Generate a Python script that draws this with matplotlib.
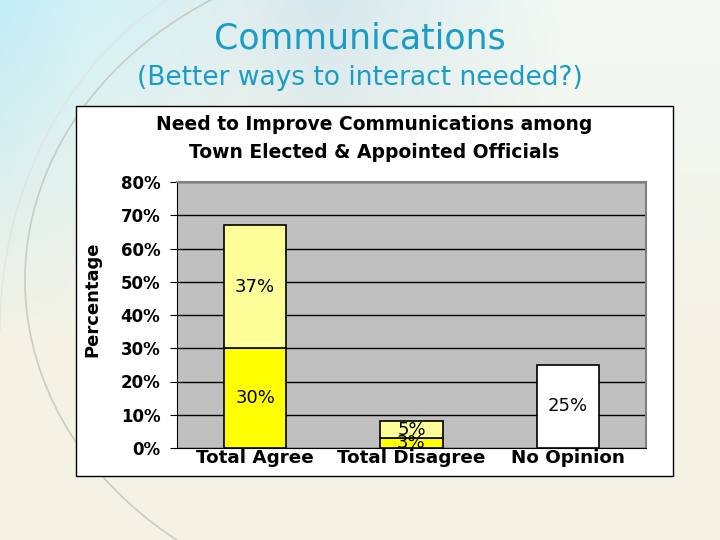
import numpy as np
import matplotlib
matplotlib.use('Agg')
import matplotlib.pyplot as plt
from matplotlib.patches import Rectangle, Arc

categories = ['Total Agree', 'Total Disagree', 'No Opinion']
lower_vals = [30, 3, 25]     # strongly agree / strongly disagree / no opinion
upper_vals = [37, 5, 0]      # agree / disagree
yticks = [0, 10, 20, 30, 40, 50, 60, 70, 80]

plt.rcParams['font.family'] = ['DejaVu Sans']

fig = plt.figure(figsize=(7.2, 5.4), dpi=100)

# slide background (gradient + faint arcs)
bg = fig.add_axes([0, 0, 1, 1])
h, w = 270, 360
yy, xx = np.mgrid[0:1:h*1j, 0:1:w*1j]
cream = np.array([0.96, 0.95, 0.90])
light = np.array([0.95, 0.98, 0.96])
cyan = np.array([0.76, 0.93, 0.97])
blue_gray = np.array([0.84, 0.91, 0.93])
tv = np.clip(yy * 1.6, 0, 1)[..., None]
wc = np.clip(1 - xx * 3, 0, 1)[..., None]
wb = np.clip(1 - np.abs(xx - 0.45) * 3, 0, 1)[..., None]
wl = np.clip(1 - wc - wb, 0, 1)
top_row = (cyan * wc + blue_gray * wb + light * wl) / (wc + wb + wl)
img = top_row * (1 - tv) + cream * tv
bg.imshow(img, extent=[0, 1, 0, 1], aspect='auto', zorder=0, origin='upper')
bg.add_patch(Arc((420/720, 1 - 280/540), 790/720, 660/540, theta1=90, theta2=270,
                 color='#c8ccc4', lw=1.2))
bg.add_patch(Arc((330/720, 1 - 330/540), 660/720, 760/540, theta1=110, theta2=180,
                 color='#dfe6e2', lw=1.0))
bg.set_xlim(0, 1)
bg.set_ylim(0, 1)
bg.axis('off')

fig.text(0.5, 0.928, 'Communications', ha='center', va='center', fontsize=25,
         color='#1a9cc6')
fig.text(0.5, 0.856, '(Better ways to interact needed?)', ha='center', va='center',
         fontsize=19, color='#1a9cc6')

# white chart box
fig.patches.append(Rectangle((76/720, 1 - 476/540), 597/720, 370/540, transform=fig.transFigure,
                             facecolor='white', edgecolor='black', lw=1, zorder=1))
fig.text(374/720, 1 - 124/540, 'Need to Improve Communications among', ha='center', va='center',
         fontsize=13.5, fontweight='bold')
fig.text(374/720, 1 - 152/540, 'Town Elected & Appointed Officials', ha='center', va='center',
         fontsize=13.5, fontweight='bold')

ax = fig.add_axes([177/720, 1 - 448/540, 469/720, 266/540], zorder=2)
ax.set_facecolor('#c0c0c0')
x = np.arange(len(categories))
bottom_colors = ['#ffff00', '#ffff00', 'white']
ax.bar(x, lower_vals, width=0.4, color=bottom_colors, edgecolor='black', lw=1.2, zorder=3)
ax.bar(x[:2], upper_vals[:2], bottom=lower_vals[:2], width=0.4, color='#ffff99',
       edgecolor='black', lw=1.2, zorder=3)

for i in range(len(categories)):
    ax.text(x[i], lower_vals[i] / 2, f'{lower_vals[i]}%', ha='center', va='center', fontsize=13, zorder=4)
    if upper_vals[i] > 0:
        ax.text(x[i], lower_vals[i] + upper_vals[i] / 2, f'{upper_vals[i]}%', ha='center',
                va='center', fontsize=13, zorder=4)

ax.set_xlim(-0.5, 2.5)
ax.set_ylim(0, 80)
ax.set_yticks(yticks)
ax.set_yticklabels([f'{v}%' for v in yticks], fontsize=12, fontweight='bold')
ax.yaxis.grid(True, color='black', lw=1)
ax.set_axisbelow(True)
ax.tick_params(axis='y', direction='out', length=5, pad=7)
ax.set_xticks(x)
ax.set_xticklabels(categories, fontsize=13.2, fontweight='bold')
ax.tick_params(axis='x', length=0, pad=1)
for s in ['top', 'right']:
    ax.spines[s].set_color('#808080')
    ax.spines[s].set_linewidth(1.5)
ax.spines['left'].set_color('black')
ax.spines['bottom'].set_color('black')
ax.set_ylabel('Percentage', fontsize=13, fontweight='bold')
ax.yaxis.set_label_coords(-(177 - 101) / 469, (448 - 299) / 266)

fig.savefig('out.png', dpi=100)
